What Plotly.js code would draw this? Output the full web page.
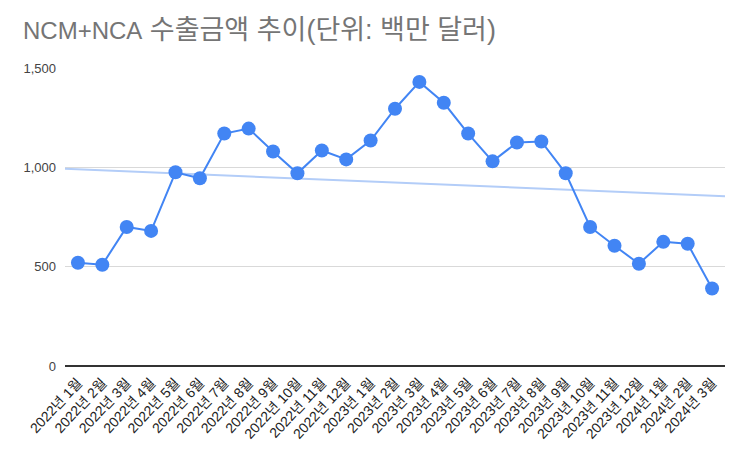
<!DOCTYPE html>
<html>
<head>
<meta charset="utf-8">
<script src="https://cdn.plot.ly/plotly-3.0.1.min.js"></script>
<style>
  html, body { margin: 0; padding: 0; background: #fff; }
  #chart { width: 743px; height: 457px; }
</style>
</head>
<body>
<div id="chart"></div>
<script>
// months and export amounts (million USD)
var months = [
  '2022년 1월', '2022년 2월', '2022년 3월', '2022년 4월', '2022년 5월', '2022년 6월',
  '2022년 7월', '2022년 8월', '2022년 9월', '2022년 10월', '2022년 11월', '2022년 12월',
  '2023년 1월', '2023년 2월', '2023년 3월', '2023년 4월', '2023년 5월', '2023년 6월',
  '2023년 7월', '2023년 8월', '2023년 9월', '2023년 10월', '2023년 11월', '2023년 12월',
  '2024년 1월', '2024년 2월', '2024년 3월'
];
var amounts = [
  520, 510, 700, 680, 975, 945,
  1170, 1195, 1080, 970, 1085, 1040,
  1135, 1295, 1430, 1325, 1170, 1030,
  1125, 1130, 970, 700, 605, 515,
  625, 615, 390
];
var yTicks = [0, 500, 1000, 1500];
var yTickText = ['0', '500', '1,000', '1,500'];

var idx = months.map(function (m, i) { return i; });

// least squares trendline
var n = amounts.length;
var sx = 0, sy = 0, sxy = 0, sxx = 0;
for (var i = 0; i < n; i++) {
  sx += idx[i]; sy += amounts[i];
  sxy += idx[i] * amounts[i]; sxx += idx[i] * idx[i];
}
var slope = (n * sxy - sx * sy) / (n * sxx - sx * sx);
var icpt = (sy - slope * sx) / n;
var xr = [-0.53, n - 1 + 0.53];

var font = 'Arial, "Liberation Sans", "Noto Sans CJK KR", sans-serif';

var traces = [
  {
    x: xr,
    y: xr.map(function (v) { return icpt + slope * v; }),
    mode: 'lines',
    line: { color: '#b3cdf8', width: 2 },
    hoverinfo: 'skip'
  },
  {
    x: idx,
    y: amounts,
    mode: 'lines+markers',
    line: { color: '#4285f4', width: 2 },
    marker: { color: '#4285f4', size: 14 }
  }
];

var layout = {
  width: 743,
  height: 457,
  margin: { l: 65, r: 18, t: 68, b: 91 },
  paper_bgcolor: '#fff',
  plot_bgcolor: '#fff',
  showlegend: false,
  font: { family: font, color: '#222' },
  title: {
    text: 'NCM+NCA<span style="font-size:27px"> 수출금액 추이(단위: 백만 달러)</span>',
    x: 0, xref: 'paper', xanchor: 'left',
    y: 0.951, yref: 'container', yanchor: 'top',
    pad: { l: -42 },
    font: { family: font, size: 24, color: '#757575' }
  },
  xaxis: {
    range: xr,
    tickvals: idx,
    ticktext: months,
    tickangle: -47,
    showgrid: false,
    zeroline: false,
    showline: false,
    ticks: '',
    ticklabelstandoff: 5,
    tickfont: { size: 14, color: '#222' },
    fixedrange: true
  },
  yaxis: {
    range: [0, 1500],
    tickvals: yTicks,
    ticktext: yTickText,
    gridcolor: '#d9d9d9',
    gridwidth: 1,
    zeroline: true,
    zerolinecolor: '#333',
    zerolinewidth: 1.5,
    showline: false,
    ticks: '',
    ticklabelstandoff: 8,
    tickfont: { size: 13, color: '#444' },
    fixedrange: true
  }
};

Plotly.newPlot('chart', traces, layout, { displayModeBar: false, staticPlot: true });
</script>
</body>
</html>
